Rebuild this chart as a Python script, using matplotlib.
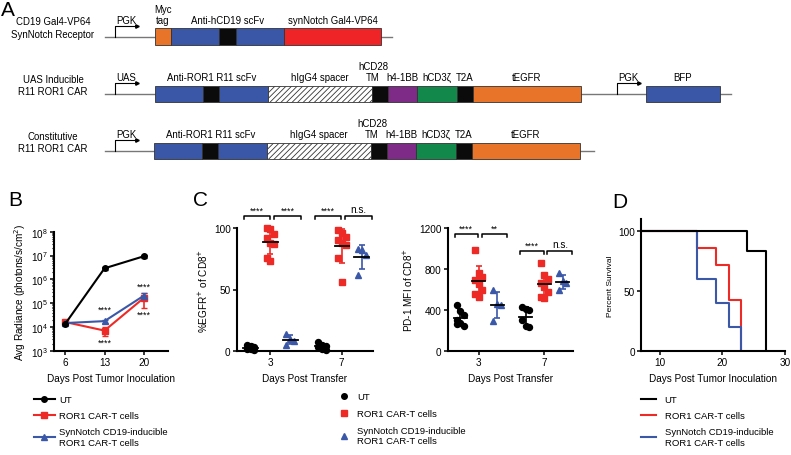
import matplotlib.pyplot as plt
import numpy as np
from matplotlib.patches import Rectangle
from matplotlib.lines import Line2D
from matplotlib.ticker import LogLocator

plt.rcParams['font.family'] = ['Liberation Sans', 'DejaVu Sans']
plt.rcParams['hatch.linewidth'] = 0.6

W, H = 791, 456

# ---- panel A: constructs (label, segment lengths, segment kinds)
synnotch_parts = [("Myc\ntag", [16], ['myc']),
                  ("Anti-hCD19 scFv", [48, 17, 48], ['scfv', 'link', 'scfv']),
                  ("synNotch Gal4-VP64", [97], ['notch'])]
car_parts = [("Anti-ROR1 R11 scFv", [48, 16, 49], ['scfv', 'link', 'scfv']),
             ("hIgG4 spacer", [104], ['spacer']),
             ("hCD28\nTM", [16], ['link']),
             ("h4-1BB", [29], ['bb']),
             ("hCD3\u03b6", [40], ['cd3']),
             ("T2A", [16], ['link']),
             ("tEGFR", [108], ['egfr'])]
bfp_parts = [("BFP", [74], ['scfv'])]
construct_names = ["CD19 Gal4-VP64\nSynNotch Receptor",
                   "UAS Inducible\nR11 ROR1 CAR",
                   "Constitutive\nR11 ROR1 CAR"]
promoters = ["PGK", "UAS", "PGK"]

# ---- panel B: tumor radiance
days_b = [6, 13, 20]
ut_b = [1.35e4, 2.9e6, 9.3e6]
ut_b_err = [2e3, 3.5e5, 1.2e6]
car_b = [1.6e4, 7.0e3, 1.65e5]
car_b_err = [2.5e3, 3.0e3, 1.05e5]
syn_b = [1.45e4, 1.75e4, 2.05e5]
syn_b_err = [1.5e3, 2.5e3, 6e4]

# ---- panel C: %EGFR+ and PD-1 MFI, day 3 and day 7
days_c = ["3", "7"]
egfr = {
    "UT": [[5, 4, 3, 2, 2, 1], [7, 5, 4, 3, 2, 1]],
    "CAR": [[100, 99, 95, 92, 88, 87, 76, 73], [98, 96, 93, 90, 88, 86, 76, 56]],
    "SYN": [[14, 10, 8, 5], [83, 82, 78, 62]],
}
pd1 = {
    "UT": [[450, 395, 350, 300, 270, 245, 260], [430, 410, 400, 300, 240, 230]],
    "CAR": [[990, 760, 720, 690, 650, 600, 560, 530], [860, 740, 700, 660, 620, 580, 530, 520]],
    "SYN": [[600, 460, 450, 290], [760, 680, 660, 600]],
}
sig_egfr = [["****", "****"], ["****", "n.s."]]
sig_pd1 = [["****", "**"], ["****", "n.s."]]

# ---- panel D: survival
ut_t = [0, 24, 27]
ut_s = [100, 83.3, 0]
car_t = [0, 16, 19, 21, 23]
car_s = [100, 85.7, 71.4, 42.9, 0]
syn_t = [0, 16, 19, 21, 23]
syn_s = [100, 60, 40, 20, 0]

legend_labels = ["UT", "ROR1 CAR-T cells", "SynNotch CD19-inducible\nROR1 CAR-T cells"]

RED = '#EE2A26'
BLUE = '#3B58A8'
kind_color = {'myc': '#E8742A', 'scfv': '#3A56A6', 'link': '#0B0B0B',
              'notch': '#EE2427', 'spacer': 'white', 'bb': '#7D2B86',
              'cd3': '#12894A', 'egfr': '#E8742A'}

FS = 7.2   # tick / axis label size
FL = 6.8   # legend size


def rect(l, t, r, b):
    return [l / W, 1 - b / H, (r - l) / W, (b - t) / H]


def style(ax):
    for s in ['top', 'right']:
        ax.spines[s].set_visible(False)
    for s in ['left', 'bottom']:
        ax.spines[s].set_linewidth(1.5)
    ax.tick_params(direction='out', length=3, width=1.1, labelsize=FS, pad=1.5)


fig = plt.figure(figsize=(7.91, 4.56), dpi=100)

# ================= panel A
axA = fig.add_axes([0, 0, 1, 1])
axA.set_xlim(0, W)
axA.set_ylim(H, 0)
axA.axis('off')
fs_a = 6.9


def draw_parts(parts, x0, yc, h=16.5):
    x = x0
    for label, lens, kinds in parts:
        xs = x
        for ln, k in zip(lens, kinds):
            axA.add_patch(Rectangle((x, yc - h / 2), ln, h, facecolor=kind_color[k],
                                    edgecolor='#333333', lw=0.6,
                                    hatch='//////' if k == 'spacer' else None))
            x += ln
        xm = (xs + x) / 2
        if label.startswith("hCD28"):
            xm = xs + 1  # label sits left of the TM block in the original
        axA.text(xm, yc - h / 2 - 3.5, label, ha='center', va='bottom',
                 fontsize=fs_a, linespacing=1.1)
    return x


def promoter(x, yc, label):
    axA.plot([x, x, x + 22], [yc, yc - 11, yc - 11], color='black', lw=0.8)
    axA.plot([x + 22], [yc - 11], marker='>', ms=2.5, color='black')
    axA.text(x + 11, yc - 12, label, ha='center', va='bottom', fontsize=fs_a)


rows_y = [37.5, 95, 152]
for i, yc in enumerate(rows_y):
    axA.text(53, yc - 9, construct_names[i], ha='center', va='center',
             fontsize=fs_a, linespacing=1.3)
    promoter(115, yc, promoters[i])

axA.plot([105, 392], [rows_y[0]] * 2, color='#777777', lw=1, zorder=0)
draw_parts(synnotch_parts, 155, rows_y[0])

axA.plot([105, 731], [rows_y[1]] * 2, color='#777777', lw=1, zorder=0)
draw_parts(car_parts, 155, rows_y[1])
promoter(617, rows_y[1], "PGK")
draw_parts(bfp_parts, 646, rows_y[1])

axA.plot([105, 594], [rows_y[2]] * 2, color='#777777', lw=1, zorder=0)
draw_parts(car_parts, 154, rows_y[2])

fig.text(1 / W, 1 - 10 / H, "A", fontsize=15, va='center', ha='left')
fig.text(8 / W, 1 - 200 / H, "B", fontsize=15, va='center', ha='left')
fig.text(193 / W, 1 - 200 / H, "C", fontsize=15, va='center', ha='left')
fig.text(612 / W, 1 - 203 / H, "D", fontsize=15, va='center', ha='left')

# ================= panel B
axB = fig.add_axes(rect(54, 232.7, 168, 351.7))
style(axB)
axB.set_yscale('log')
axB.errorbar(days_b, car_b, yerr=car_b_err, color=RED, marker='s', ms=4, lw=1.5,
             capsize=2.5, elinewidth=1.2)
axB.errorbar(days_b, syn_b, yerr=syn_b_err, color=BLUE, marker='^', ms=4, lw=1.5,
             capsize=2.5, elinewidth=1.2)
axB.errorbar(days_b, ut_b, yerr=ut_b_err, color='black', marker='o', ms=4, lw=1.5,
             capsize=2.5, elinewidth=1.2)
axB.set_ylim(1e3, 1e8)
axB.set_xlim(4, 24.3)
axB.set_xticks(days_b)
axB.yaxis.set_major_locator(LogLocator(base=10, numticks=12))
axB.yaxis.set_minor_locator(LogLocator(base=10, subs=np.arange(2, 10), numticks=12))
axB.tick_params(which='minor', length=1.5, width=0.8)
axB.set_xlabel("Days Post Tumor Inoculation", fontsize=FS, labelpad=4)
axB.set_ylabel("Avg Radiance (photons/s/cm$^2$)", fontsize=FS, labelpad=2)
for xx, ly in [(13, 4.74), (13, 3.35), (20, 5.72), (20, 4.55)]:
    axB.text(xx, 10 ** ly, "****", ha='center', va='center', fontsize=6.5)

hB = [Line2D([], [], color='black', marker='o', ms=4, lw=1.5),
      Line2D([], [], color=RED, marker='s', ms=4, lw=1.5),
      Line2D([], [], color=BLUE, marker='^', ms=4, lw=1.5)]
fig.legend(hB, legend_labels, loc='upper left', bbox_to_anchor=(34 / W, 1 - 396 / H),
           frameon=False, fontsize=FL, handlelength=2.2, handletextpad=0.45,
           labelspacing=0.75, borderpad=0, borderaxespad=0)

# ================= panel C
offs = [-0.28, 0, 0.28]
groups = ["UT", "CAR", "SYN"]
gcolor = ['black', RED, BLUE]
gmarker = ['o', 's', '^']


def dotplot(ax, data, sig, top, ytop):
    style(ax)
    for gi, g in enumerate(groups):
        for di in range(len(days_c)):
            vals = np.array(data[g][di], dtype=float)
            xc = di + offs[gi]
            jit = ((np.arange(len(vals)) % 3) - 1) * 0.055
            ax.plot(xc + jit, vals, linestyle='none', marker=gmarker[gi], ms=4.3,
                    color=gcolor[gi], clip_on=False, zorder=3)
            m = vals.mean()
            sd = vals.std(ddof=1)
            ax.errorbar([xc], [m], yerr=[sd], fmt='none', ecolor=gcolor[gi],
                        capsize=2.5, elinewidth=1.2, capthick=1.2, zorder=4)
            ax.plot([xc - 0.1, xc + 0.1], [m, m], color='black', lw=1.3, zorder=5)
    for di in range(len(days_c)):
        spans = [(di - 0.37, di - 0.01), (di + 0.05, di + 0.43)]
        for (a, b), s in zip(spans, sig[di]):
            yb = ytop[di]
            d = top * 0.025
            ax.plot([a, a, b, b], [yb - d, yb, yb, yb - d], color='black', lw=1.1,
                    clip_on=False)
            ax.text((a + b) / 2, yb + top * 0.01, s, ha='center', va='bottom',
                    fontsize=6.5 if '*' in s else FS, clip_on=False)
    ax.set_xticks(range(len(days_c)))
    ax.set_xticklabels(days_c)
    ax.set_xlim(-0.47, 1.44)
    ax.set_ylim(0, top)
    ax.set_xlabel("Days Post Transfer", fontsize=FS, labelpad=4)


axC1 = fig.add_axes(rect(237, 229, 373, 352))
dotplot(axC1, egfr, sig_egfr, 100, [110, 110])
axC1.set_yticks([0, 50, 100])
axC1.set_ylabel("%EGFR$^{+}$ of CD8$^{+}$", fontsize=FS, labelpad=3)

axC2 = fig.add_axes(rect(448, 229, 573, 352))
dotplot(axC2, pd1, sig_pd1, 1200, [1140, 980])
axC2.set_yticks([0, 400, 800, 1200])
axC2.set_ylabel("PD-1 MFI of CD8$^{+}$", fontsize=FS, labelpad=3)

hC = [Line2D([], [], color=c, marker=mk, ms=4, lw=0, linestyle='none')
      for c, mk in zip(gcolor, gmarker)]
fig.legend(hC, legend_labels, loc='upper left', bbox_to_anchor=(336 / W, 1 - 393 / H),
           frameon=False, fontsize=FL, handlelength=1.6, handletextpad=0.6,
           labelspacing=0.85, borderpad=0, borderaxespad=0)

# ================= panel D
axD = fig.add_axes(rect(641, 220, 785, 352))
style(axD)
axD.step(car_t, car_s, where='post', color=RED, lw=1.5)
axD.step(syn_t, syn_s, where='post', color=BLUE, lw=1.5)
axD.step(ut_t, ut_s, where='post', color='black', lw=1.5)
axD.set_xlim(7, 30)
axD.set_ylim(0, 110)
axD.set_xticks([10, 20, 30])
axD.set_yticks([0, 50, 100])
axD.set_xlabel("Days Post Tumor Inoculation", fontsize=FS, labelpad=4)
axD.set_ylabel("Percent Survival", fontsize=6.0, labelpad=3)

hD = [Line2D([], [], color=c, lw=1.5) for c in ['black', RED, BLUE]]
fig.legend(hD, legend_labels, loc='upper left', bbox_to_anchor=(641 / W, 1 - 396 / H),
           frameon=False, fontsize=FL, handlelength=1.6, handletextpad=0.9,
           labelspacing=0.75, borderpad=0, borderaxespad=0)

fig.savefig("out.png", dpi=100)
